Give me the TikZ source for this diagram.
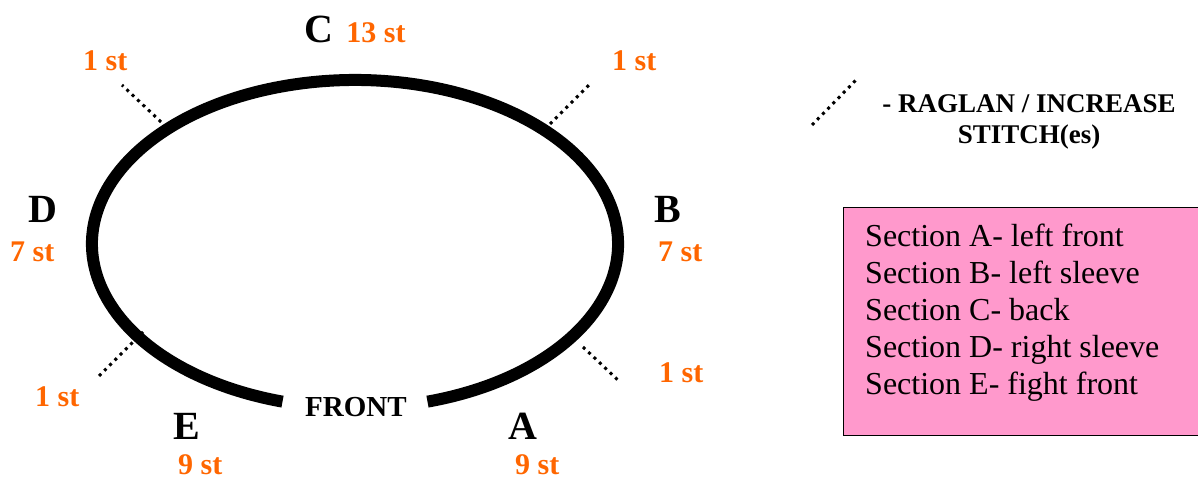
\documentclass[tikz,border=0pt]{standalone}
\usepackage{fontspec}
\setmainfont{Liberation Serif}
\usepackage{tikz}
\usetikzlibrary{positioning}
\definecolor{storange}{HTML}{FF6600}
\definecolor{keypink}{HTML}{FF99CC}

\begin{document}
\begin{tikzpicture}[
    x=1pt,y=1pt,
    every node/.style={inner sep=0pt},
    letter/.style={font=\fontsize{40}{44}\selectfont\bfseries,anchor=base west},
    count/.style={font=\fontsize{30}{34}\selectfont\bfseries,text=storange,anchor=base west},
    ringline/.style={line width=12pt},
    raglan/.style={line width=3pt,dash pattern=on 3pt off 4.4pt},
    keybox/.style={draw,line width=1.2pt,fill=keypink,anchor=north west,
                   minimum width=355pt,minimum height=228pt},
    keytext/.style={font=\fontsize{32}{36}\selectfont,anchor=base west}
]
\useasboundingbox (0,0) rectangle (1198,481);
% yoke ring, open at the front
\coordinate (ring) at (355,237);
\draw[ringline] (ring) ++(286:263 and 164)
    arc[start angle=286,end angle=614,x radius=263,y radius=164];
\node[font=\fontsize{29}{32}\selectfont\bfseries,anchor=base west] (front) at (305,64) {FRONT};

% raglan lines
\coordinate (cdIn) at (161,359);  \coordinate (cdOut) at (122,396);
\coordinate (bcIn) at (550,357);  \coordinate (bcOut) at (591,398);
\coordinate (deIn) at (143,149);  \coordinate (deOut) at (96,102);
\coordinate (abIn) at (583,134);  \coordinate (abOut) at (620,99);
\draw[raglan] (cdIn) -- (cdOut);
\draw[raglan] (bcIn) -- (bcOut);
\draw[raglan] (deIn) -- (deOut);
\draw[raglan] (abIn) -- (abOut);

% sections
\node[letter] (C) at (304,438) {C};
\node[count,base right=13pt of C] (cst) {13 st};
\node[letter] (B) at (654,258) {B};
\node[count] (bst) at (658,219) {7 st};
\node[letter] (D) at (28,258) {D};
\node[count] (dst) at (10,219) {7 st};
\node[letter] (E) at (173,41) {E};
\node[count] (est) at (178,6) {9 st};
\node[letter] (A) at (508,41) {A};
\node[count] (ast) at (515,6) {9 st};

% raglan stitch counts
\node[count] (cdst) at (83,410) {1 st};
\node[count] (bcst) at (612,410) {1 st};
\node[count] (dest) at (35,74) {1 st};
\node[count] (abst) at (659,98) {1 st};

% key
\coordinate (keyIn) at (812,356);  \coordinate (keyOut) at (858,403);
\draw[raglan] (keyIn) -- (keyOut);
\node[font=\fontsize{27}{31}\selectfont\bfseries,align=center,anchor=north]
    (keylabel) at (1029,387) {- RAGLAN / INCREASE\\STITCH(es)};

\node[keybox] (key) at (843,274) {};
\foreach \ltr/\part [count=\i from 0] in
    {A/left front,B/left sleeve,C/back,D/right sleeve,E/fight front}
    \node[keytext] (sec\ltr) at (865,234-37*\i) {Section \ltr- \part};
\end{tikzpicture}
\end{document}
